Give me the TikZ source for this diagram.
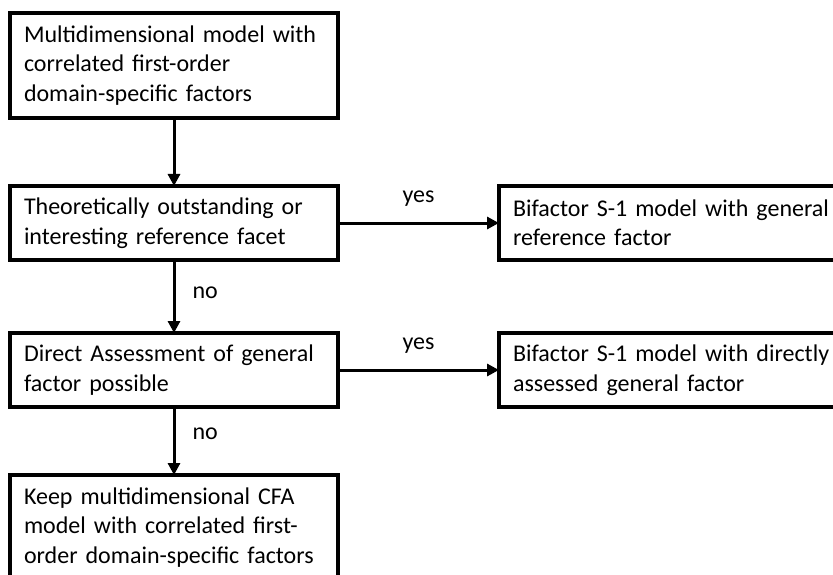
\documentclass[tikz,border=0pt]{standalone}
\usepackage{fontspec}
\setmainfont{Carlito}
\usetikzlibrary{arrows.meta, positioning}

\begin{document}
\begin{tikzpicture}[
    x=1pt, y=-1pt,
    font=\fontsize{24}{29.5}\selectfont,
    flow/.style={-{Triangle[length=12pt, width=12pt]}, line width=3pt},
    blk/.style={draw, line width=4pt, align=left, text width=300pt,
        inner xsep=14pt, inner ysep=0pt, outer sep=0pt, minimum height=74pt},
    side/.style={blk, text width=360pt},
    lbl/.style={inner sep=0pt},
]
\clip (0,0) rectangle (833,575);

% linke Spalte
\node[blk, anchor=north west, minimum height=105pt] (start) at (10,13)
    {Multidimensional model with\\correlated first-order\\domain-specific factors};
\node[blk, below=68pt of start] (refq)
    {Theoretically outstanding or\\interesting reference facet};
\node[blk, below=73pt of refq] (dirq)
    {Direct Assessment of general\\factor possible};
\node[blk, below=68pt of dirq, minimum height=105pt] (keep)
    {Keep multidimensional CFA\\model with correlated first-\\order domain-specific factors};

% rechte Spalte
\node[side, right=161pt of refq] (bifref)
    {Bifactor S-1 model with general\\reference factor};
\node[side, right=161pt of dirq] (bifdir)
    {Bifactor S-1 model with directly\\assessed general factor};

% Pfeile
\draw[flow] (start) -- (refq);
\draw[flow] (refq) -- node[lbl, pos=0.45, right=17pt] {no} (dirq);
\draw[flow] (dirq) -- node[lbl, pos=0.4, right=17pt] {no} (keep);
\draw[flow] (refq.east) -- node[lbl, above=15pt] {yes} (refq.east -| bifref.west);
\draw[flow] (dirq.east) -- node[lbl, above=15pt] {yes} (dirq.east -| bifdir.west);

\end{tikzpicture}
\end{document}
